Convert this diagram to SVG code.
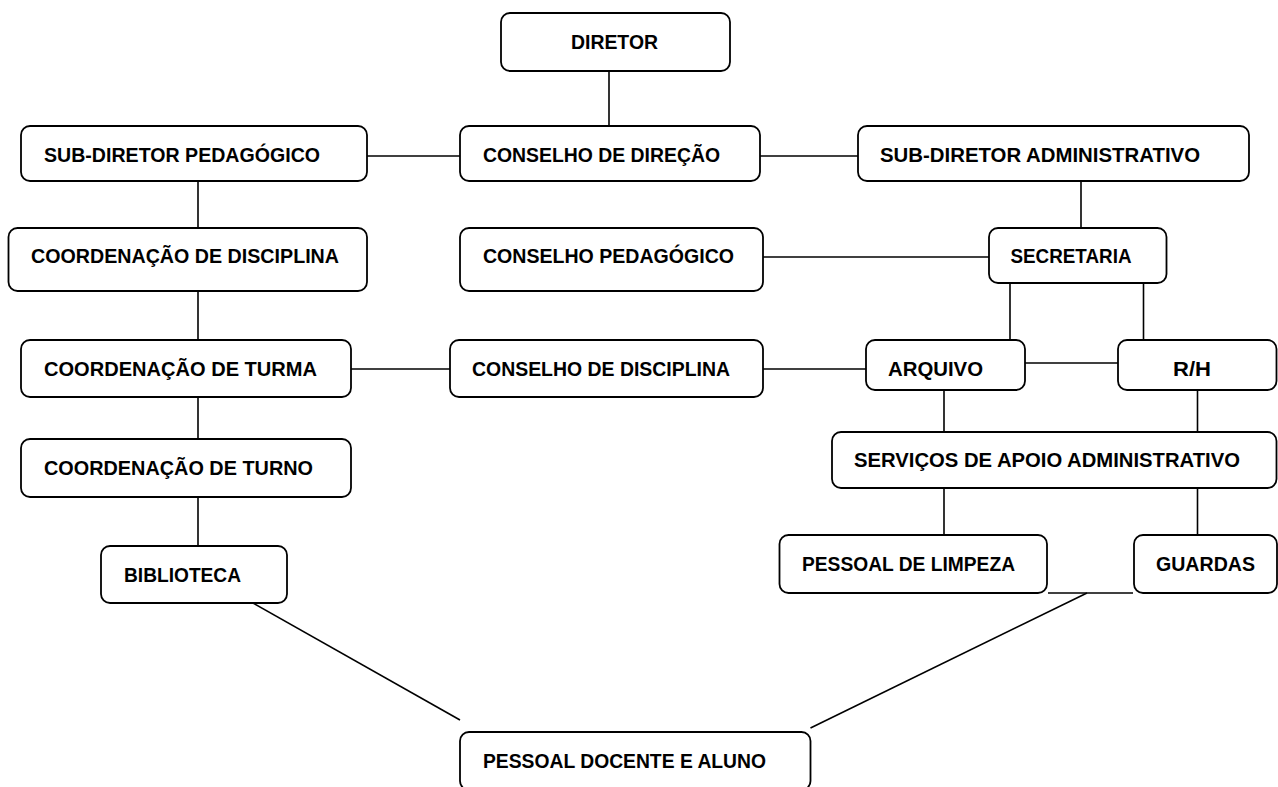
<svg xmlns="http://www.w3.org/2000/svg" width="1278" height="787" viewBox="0 0 1278 787">
<style>
  .box { fill: #ffffff; stroke: #000000; stroke-width: 1.8; }
  .lbl { font-family: "Liberation Sans", Arial, sans-serif; font-weight: bold; font-size: 20.5px; fill: #000000; }
  .conn line { stroke: #000000; stroke-width: 1.6; }
</style>
<rect width="1278" height="787" fill="#ffffff"/>
<g id="connectors" class="conn">
  <line x1="609" y1="71" x2="609" y2="126"/>
  <line x1="367" y1="156" x2="460" y2="156"/>
  <line x1="760" y1="156" x2="858" y2="156"/>
  <line x1="1081" y1="181" x2="1081" y2="228"/>
  <line x1="763" y1="257" x2="989" y2="257"/>
  <line x1="198" y1="181" x2="198" y2="228"/>
  <line x1="198" y1="291" x2="198" y2="340"/>
  <line x1="1010" y1="283" x2="1010" y2="340"/>
  <line x1="1143.5" y1="283" x2="1143.5" y2="340"/>
  <line x1="351" y1="369" x2="450" y2="369"/>
  <line x1="763" y1="369" x2="866" y2="369"/>
  <line x1="1025" y1="363" x2="1118" y2="363"/>
  <line x1="198" y1="397" x2="198" y2="439"/>
  <line x1="198" y1="497" x2="198" y2="546"/>
  <line x1="944" y1="390" x2="944" y2="432"/>
  <line x1="1197.5" y1="390" x2="1197.5" y2="432"/>
  <line x1="944" y1="488" x2="944" y2="535"/>
  <line x1="1197.5" y1="488" x2="1197.5" y2="535"/>
  <line x1="1048" y1="593" x2="1133" y2="593"/>
  <line x1="253" y1="603" x2="460" y2="720"/>
  <line x1="1087" y1="593" x2="810.5" y2="728"/>
</g>
<g id="diretor">
  <rect class="box" x="501" y="13" width="229" height="58" rx="9"/>
  <text class="lbl" x="571" y="49.3" textLength="87" lengthAdjust="spacingAndGlyphs">DIRETOR</text>
</g>
<g id="sub-diretor-pedagogico">
  <rect class="box" x="21" y="126" width="346" height="55" rx="9"/>
  <text class="lbl" x="44" y="161.7" textLength="276" lengthAdjust="spacingAndGlyphs">SUB-DIRETOR PEDAGÓGICO</text>
</g>
<g id="conselho-direcao">
  <rect class="box" x="460" y="126" width="300" height="55" rx="9"/>
  <text class="lbl" x="483" y="161.7" textLength="237" lengthAdjust="spacingAndGlyphs">CONSELHO DE DIREÇÃO</text>
</g>
<g id="sub-diretor-administrativo">
  <rect class="box" x="858" y="126" width="391" height="55" rx="9"/>
  <text class="lbl" x="880" y="161.7" textLength="320" lengthAdjust="spacingAndGlyphs">SUB-DIRETOR ADMINISTRATIVO</text>
</g>
<g id="coordenacao-disciplina">
  <rect class="box" x="8.5" y="228" width="358.5" height="63" rx="9"/>
  <text class="lbl" x="31" y="263.3" textLength="308" lengthAdjust="spacingAndGlyphs">COORDENAÇÃO DE DISCIPLINA</text>
</g>
<g id="conselho-pedagogico">
  <rect class="box" x="460" y="228" width="303" height="63" rx="9"/>
  <text class="lbl" x="483" y="263.3" textLength="251" lengthAdjust="spacingAndGlyphs">CONSELHO PEDAGÓGICO</text>
</g>
<g id="secretaria">
  <rect class="box" x="989" y="228" width="177.5" height="55" rx="9"/>
  <text class="lbl" x="1010.5" y="262.5" textLength="121" lengthAdjust="spacingAndGlyphs">SECRETARIA</text>
</g>
<g id="coordenacao-turma">
  <rect class="box" x="21" y="340" width="330" height="57" rx="9"/>
  <text class="lbl" x="44" y="376" textLength="273" lengthAdjust="spacingAndGlyphs">COORDENAÇÃO DE TURMA</text>
</g>
<g id="conselho-disciplina">
  <rect class="box" x="450" y="340" width="313" height="57" rx="9"/>
  <text class="lbl" x="472" y="376" textLength="258" lengthAdjust="spacingAndGlyphs">CONSELHO DE DISCIPLINA</text>
</g>
<g id="arquivo">
  <rect class="box" x="866" y="340" width="159" height="50" rx="9"/>
  <text class="lbl" x="888" y="375.7" textLength="95" lengthAdjust="spacingAndGlyphs">ARQUIVO</text>
</g>
<g id="rh">
  <rect class="box" x="1118" y="340" width="158.5" height="50" rx="9"/>
  <text class="lbl" x="1173" y="375.7" textLength="38" lengthAdjust="spacingAndGlyphs">R/H</text>
</g>
<g id="coordenacao-turno">
  <rect class="box" x="21" y="439" width="330" height="58" rx="9"/>
  <text class="lbl" x="44" y="475" textLength="269" lengthAdjust="spacingAndGlyphs">COORDENAÇÃO DE TURNO</text>
</g>
<g id="servicos-apoio">
  <rect class="box" x="832" y="432" width="444.5" height="56" rx="9"/>
  <text class="lbl" x="854" y="466.7" textLength="386" lengthAdjust="spacingAndGlyphs">SERVIÇOS DE APOIO ADMINISTRATIVO</text>
</g>
<g id="biblioteca">
  <rect class="box" x="101" y="546" width="186" height="57" rx="9"/>
  <text class="lbl" x="124" y="581.7" textLength="117" lengthAdjust="spacingAndGlyphs">BIBLIOTECA</text>
</g>
<g id="pessoal-limpeza">
  <rect class="box" x="779.5" y="535" width="267.5" height="58" rx="9"/>
  <text class="lbl" x="802" y="570.7" textLength="213" lengthAdjust="spacingAndGlyphs">PESSOAL DE LIMPEZA</text>
</g>
<g id="guardas">
  <rect class="box" x="1134" y="535" width="143" height="58" rx="9"/>
  <text class="lbl" x="1156" y="570.7" textLength="99" lengthAdjust="spacingAndGlyphs">GUARDAS</text>
</g>
<g id="pessoal-docente-aluno">
  <rect class="box" x="460" y="732" width="350.5" height="58" rx="9"/>
  <text class="lbl" x="483" y="767.7" textLength="283" lengthAdjust="spacingAndGlyphs">PESSOAL DOCENTE E ALUNO</text>
</g>
</svg>
